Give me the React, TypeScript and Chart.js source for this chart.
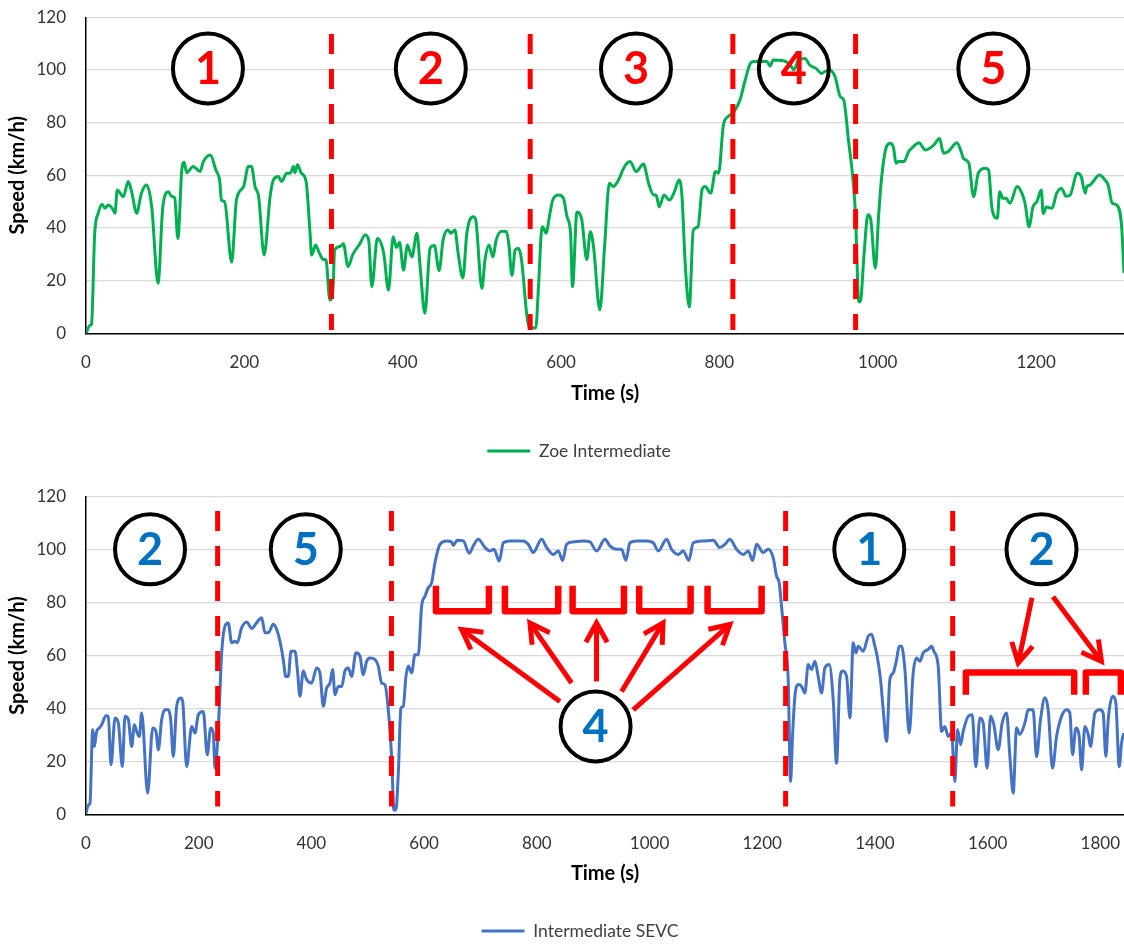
import React, { useEffect, useRef } from "react";
import { Chart, registerables } from "chart.js";

Chart.register(...registerables);
Chart.defaults.font.family = "Lato, 'Open Sans', sans-serif";

// ---------------- Top panel: Zoe Intermediate ----------------
const zoeTime = [
  0, 5, 7, 11, 15.5, 20, 24, 28, 34.5, 36.6, 39.5, 47, 53.4, 57.6, 64, 70, 76.6, 83, 91, 97,
  104, 108, 112, 116, 121, 124, 127, 135.5, 144, 148, 157, 164, 169, 171, 175, 184, 190, 199, 205, 209,
  213.5, 218, 225, 232.5, 236.6, 243, 247, 253.5, 258, 262, 264, 267, 272, 278, 283, 285, 290, 294, 300, 303,
  308, 312, 314, 321, 325, 331, 337, 346, 352.5, 357, 361, 368, 376, 382, 388, 392, 396, 401, 406, 411.5,
  418, 422, 428, 434.6, 440, 446, 451, 457, 461, 466, 470, 476, 481, 489, 492, 500, 504, 509, 514, 518,
  525, 531, 534, 538, 542, 546, 550, 557, 560, 568, 571.5, 576, 578, 581, 586, 589.5, 597, 603, 607.5, 612,
  614.5, 620, 626, 632.5, 637, 641, 649, 655, 661, 666, 672.6, 679, 687, 695, 704, 710.5, 717, 720, 724, 730,
  737, 743.5, 749, 752.5, 757, 762, 767, 773, 778, 782, 789, 795, 799, 805, 811, 818, 826, 832.6, 839, 843,
  851, 860, 864, 868, 881, 889.5, 894, 900, 908, 914, 922, 929, 933, 939, 946, 952.6, 957, 963, 969.5, 972,
  974, 975.8, 978, 982.6, 987.5, 991, 997, 1001, 1005, 1011, 1016, 1020, 1023, 1026, 1033, 1039, 1045, 1052, 1060, 1071,
  1078, 1083, 1089, 1100, 1106, 1108, 1115, 1121, 1127, 1136, 1140, 1144, 1151, 1154, 1158, 1162, 1167, 1176, 1182, 1186,
  1191, 1196, 1201, 1206.5, 1209, 1213, 1220, 1226, 1232, 1238, 1243, 1252, 1257, 1262, 1264, 1268, 1272, 1280, 1287, 1291,
  1296, 1302, 1308, 1311,
];
const zoeSpeed = [
  0, 3, 3.5, 38, 45.6, 49, 47.5, 48.7, 46.8, 45.6, 54.4, 51.9, 57.6, 53.8, 45.6, 53.2, 56.3, 48, 19, 48,
  53.8, 52, 51.5, 36, 62, 65, 61, 63.3, 61.4, 65, 67.7, 62, 57.6, 50.6, 50, 27, 50.6, 55.7, 63.3, 63.3,
  55.7, 52, 29.7, 51.9, 58.2, 59.5, 57.6, 60.8, 60.8, 63.3, 61, 64, 60.8, 57.6, 38, 29.7, 33.5, 31, 28, 28,
  12.6, 17, 31.6, 33, 34, 25.3, 30, 34, 37.3, 35.5, 17.7, 36, 30.4, 16.4, 36.7, 32.6, 34.6, 24, 33.5, 29,
  38, 25.3, 7.6, 32.3, 33.3, 23.8, 35.4, 39.2, 38, 39.2, 30.4, 21, 38, 44.3, 43.4, 17, 28, 33.5, 29, 35.4,
  38.8, 38.6, 34, 22, 31.6, 32.3, 28, 6.3, 2, 2, 17.7, 40.5, 40, 38, 45.6, 50.6, 52.5, 51.3, 44.3, 38,
  17.7, 46, 43.4, 28, 38.6, 32.9, 8.9, 33, 57, 55.7, 58.2, 62.7, 65.2, 61.4, 64.3, 57, 52.5, 52.5, 48, 52.5,
  50.6, 54, 58.2, 53, 25.3, 10, 39.2, 40.5, 54.4, 55.7, 53.2, 61.4, 60.8, 79, 82.3, 84, 88.6, 96.2, 102.5, 103.2,
  103.2, 103.2, 101.5, 103.8, 103.5, 101.9, 100, 103.8, 104.4, 101.9, 100.6, 98.7, 99.4, 100, 97.5, 89.9, 88.6, 73.4, 55.7, 44.3,
  25.3, 12, 12, 29.7, 45, 43.4, 24.7, 44.3, 59.5, 70.9, 72.2, 70.3, 64.6, 65.2, 65.2, 69, 70.9, 72.4, 69.6, 71.6,
  74, 68.4, 69, 72.4, 68.4, 66.5, 64.6, 51.9, 60.8, 62.7, 62, 48, 43.7, 53.8, 51.3, 51.3, 49.4, 55.7, 53.2, 49.4,
  40.5, 48, 50, 54.4, 45.5, 48, 47.5, 53.2, 55, 52, 52.5, 60.8, 59.5, 53.2, 55.7, 56.3, 57.6, 60.1, 58.2, 56.3,
  49.4, 48.7, 40.5, 22.8,
];

// ---------------- Bottom panel: Intermediate SEVC ----------------
const sevcTime = [
  0, 4.1, 7.1, 11.8, 14.8, 18.9, 23.7, 27.8, 35.5, 39.6, 44.4, 51.5, 57.4, 64.5, 69.2, 75.1, 81.1, 85.8, 89.9, 94.6,
  98.8, 109.4, 118.3, 124.2, 128.3, 134.3, 140.2, 146, 150.3, 154.9, 160.9, 168, 171.5, 178.6, 187.5, 193.4, 199.3, 208.1, 215.2, 221.2,
  225.9, 228.9, 233, 236.6, 240.8, 246.6, 252.5, 258.5, 264.4, 268.5, 276.3, 285.1, 294, 302.9, 311.7, 317.6, 323.5, 332.4, 338.3, 344.2,
  350.1, 354.4, 359, 363.8, 370.8, 375.6, 379.7, 385.6, 391.6, 400.4, 409.3, 415.2, 421.1, 427, 432.9, 437.7, 441.8, 447.7, 453.7, 459.5,
  465.4, 471.4, 479, 486.2, 492, 498, 504, 512.8, 518.7, 524.6, 530.5, 536.4, 542.3, 546.5, 550, 554.2, 558.9, 563, 567.8, 571.9,
  577.9, 583.7, 589.7, 595.6, 601.5, 607.4, 613.4, 619.2, 628.1, 640, 648.8, 651.7, 658.8, 669.5, 680.1, 687.2, 696.1, 708, 716.8, 723.9,
  733.4, 740.5, 752.3, 764.2, 776, 784.8, 793.7, 808.5, 817.4, 829.2, 838.1, 845.8, 852.9, 864.7, 882.5, 894.3, 906.1, 920.9, 929.7, 941.6,
  950.5, 958.1, 965.2, 977.1, 994.8, 1006.6, 1015.5, 1030.3, 1039.2, 1051, 1059.8, 1069.9, 1077.6, 1095.3, 1113.1, 1124.9, 1133.8, 1142.6, 1154.5, 1166.3,
  1175.2, 1182.9, 1190, 1201.8, 1210.6, 1219.5, 1225.4, 1230.1, 1234.3, 1240.2, 1246.1, 1250.3, 1253.9, 1258, 1263.9, 1269.8, 1275.7, 1281.6, 1287.6, 1293.5,
  1299.3, 1305.3, 1311.2, 1318.8, 1326, 1331.9, 1337.8, 1342.6, 1349.7, 1355.6, 1361.5, 1366.2, 1370.4, 1379.2, 1388.1, 1394, 1399.9, 1404, 1410, 1414.7,
  1420.6, 1426.5, 1432.4, 1438.4, 1443.1, 1447.3, 1453.2, 1460.8, 1467.9, 1474, 1479.8, 1485.7, 1494.6, 1500.6, 1504.6, 1512.3, 1518.3, 1524.1, 1530, 1536,
  1541.9, 1546.6, 1551.9, 1556.6, 1565.5, 1572.6, 1579.1, 1586.2, 1592.1, 1599.2, 1605.2, 1611.1, 1618.7, 1625.8, 1633.6, 1639.5, 1645.4, 1651.3, 1657.2, 1666.1,
  1672, 1680.8, 1686.8, 1693.9, 1701.6, 1707.4, 1715.2, 1722.3, 1731.2, 1740, 1745.9, 1750.7, 1756.6, 1762.5, 1766.7, 1772.6, 1778.5, 1782.6, 1790.3, 1799.2,
  1805, 1809.8, 1814, 1821.7, 1827.5, 1833.5, 1837.6, 1841.7,
];
const sevcSpeed = [
  0.4, 3.5, 4.2, 31.9, 25.6, 31.3, 32.6, 33.8, 37.2, 37, 18.7, 36.4, 34.5, 18, 37, 35.8, 25.6, 33.8, 31.3, 29.4,
  38.3, 8, 32.6, 31.3, 24.4, 35.8, 39.5, 39.5, 35.8, 21.8, 40.8, 43.9, 42.7, 18, 33.2, 30.7, 37.6, 38.8, 22.5, 32.6,
  30.7, 17.4, 25.6, 40.8, 61, 71.1, 72.3, 64.8, 65.4, 64.8, 70.5, 72.7, 70.2, 72.4, 74.3, 68.6, 68.6, 71.8, 69.9, 65.4,
  58.4, 52.1, 52.1, 61.6, 61.6, 53.4, 44.6, 54.1, 50.9, 49.6, 55.3, 53.4, 40.8, 47.7, 49.6, 54.7, 45.2, 48.3, 48.3, 54.1,
  55.3, 52.1, 61, 59.7, 52.8, 57.8, 59.1, 58.5, 56, 49.6, 49, 39.5, 21.8, 1.6, 1.6, 15.5, 40.1, 40.8, 52.1, 56,
  53.4, 60.3, 60.3, 78.6, 82.4, 85.6, 87.5, 95, 102, 103.3, 102.9, 101.6, 103.5, 103.3, 98.6, 101.4, 103.9, 100.8, 99.5, 100.1,
  95.7, 102.6, 103.3, 103.3, 103.3, 102, 98.9, 103.9, 100.8, 98.2, 99.5, 95.9, 102, 102.9, 103.3, 102.9, 99.5, 103.9, 101.4, 100.1,
  100.1, 96, 102.6, 103.3, 103.3, 102.6, 99.5, 103.9, 100.1, 98.2, 99.5, 95.9, 102.6, 103.3, 103.5, 100.8, 102, 103.9, 100.1, 98.2,
  99.5, 95.9, 102, 98.9, 100.1, 96.9, 90, 87.5, 78.6, 64.8, 50.9, 12.4, 30, 44.6, 49, 48.3, 45.8, 56.6, 54.7, 57.8,
  52.1, 45.8, 55.3, 56.6, 43.3, 19.3, 50.9, 54.1, 52.1, 36.4, 64.8, 61, 63.5, 61.6, 67.3, 68, 63.5, 59.7, 50.9, 39.5,
  27.5, 50.9, 53.4, 58.4, 63.5, 63.5, 54.7, 30.7, 53.4, 59.1, 57.8, 61, 62.3, 63.5, 61.6, 56, 31.3, 33.2, 29.4, 30.7,
  12.4, 32, 26.3, 31.3, 37, 37.6, 18, 36.4, 34.5, 17.4, 37, 33.8, 24.4, 34.5, 38.3, 21.8, 8, 32.6, 30.2, 34.5,
  39.5, 39.5, 21.8, 35.8, 44, 39.5, 17.4, 29.4, 37, 39.5, 38.3, 22.5, 32.6, 29.4, 16.8, 33.2, 30.2, 25.6, 38.3, 39.5,
  38.3, 21.8, 35.8, 44.6, 42.1, 18, 26.9, 30.7,
];

// ---------------- Annotations (in data units: time s, speed km/h) ----------------
const topPhaseBounds = [310, 561, 817, 972];
const topPhaseLabels = ["1", "2", "3", "4", "5"];
const topPhaseLabelTimes = [154, 435.5, 694.6, 894, 1146];
const topPhaseLabelSpeed = 100.6;

const bottomPhaseBounds = [233.6, 542, 1241.5, 1538];
const bottomPhaseLabels = ["2", "5", "1", "2", "4"];
const bottomPhaseLabelTimes = [113.6, 390, 1390, 1695.6, 904.3];
const bottomPhaseLabelSpeeds = [100.1, 100.1, 100.1, 100.1, 33.2];

const cruiseBrackets = [
  [621, 715], [743.4, 838], [863.5, 954.6], [981.7, 1072.9], [1103, 1198.9],
];
const cruiseBracketSpeeds = [86.4, 76.7];
const cruiseArrows = [
  [841, 42.6, 666.6, 69.8],
  [861.7, 49.6, 787.8, 72.3],
  [906, 50.2, 906, 72.3],
  [950.5, 46.4, 1024, 72.3],
  [971, 39.5, 1142.6, 71.7],
];
const urbanBrackets = [[1561.4, 1753.6], [1774.3, 1836.4]];
const urbanBracketSpeeds = [53.6, 45.2];
const urbanArrows = [
  [1678.7, 81.8, 1654.3, 57.2],
  [1716, 82.2, 1802, 57.8],
];

const yTickValues = [0, 20, 40, 60, 80, 100, 120];

// ---------------- Styling ----------------
const RED = "#FF0000";
const CIRCLE_R = 35;
const LEGEND_FONT = 17.5;
const LEGEND_PAD = 6;

type Circle = { t: number; v: number; label: string };
type Spec = {
  label: string;
  color: string;
  times: number[];
  speeds: number[];
  xMax: number;
  height: number;
  padTop: number;
  plotBottom: number;
  titlePadBottom: number;
  legendCenterY: number;
  legendDx: number;
  dashes: number[];
  dashFrom: number;
  dashTo: number;
  circles: Circle[];
  digitColor: string;
  uBrackets: number[][];
  uSpeeds: number[];
  nBrackets: number[][];
  nSpeeds: number[];
  arrows: number[][];
};

function drawArrow(ctx: CanvasRenderingContext2D, x1: number, y1: number, x2: number, y2: number) {
  const ang = Math.atan2(y2 - y1, x2 - x1);
  const len = 22;
  const spread = (29 * Math.PI) / 180;
  ctx.beginPath();
  ctx.moveTo(x1, y1);
  ctx.lineTo(x2 - Math.cos(ang) * 2, y2 - Math.sin(ang) * 2);
  ctx.stroke();
  ctx.beginPath();
  ctx.moveTo(x2 - len * Math.cos(ang - spread), y2 - len * Math.sin(ang - spread));
  ctx.lineTo(x2, y2);
  ctx.lineTo(x2 - len * Math.cos(ang + spread), y2 - len * Math.sin(ang + spread));
  ctx.stroke();
}

function annotationPlugin(spec: Spec) {
  return {
    id: "phaseAnnotations",
    afterLayout(chart: any) {
      const lg = chart.legend;
      if (!lg) return;
      const cur = lg.top + LEGEND_PAD + LEGEND_FONT / 2;
      const dy = spec.legendCenterY - cur;
      lg.top += dy;
      lg.bottom += dy;
      lg.left += spec.legendDx;
      lg.right += spec.legendDx;
    },
    beforeDatasetsDraw(chart: any) {
      const { ctx } = chart;
      const x = chart.scales.x;
      const y = chart.scales.y;
      ctx.save();
      ctx.fillStyle = "#ffffff";
      spec.circles.forEach((c) => {
        ctx.beginPath();
        ctx.arc(x.getPixelForValue(c.t), y.getPixelForValue(c.v), CIRCLE_R, 0, Math.PI * 2);
        ctx.fill();
      });
      ctx.restore();
    },
    afterDatasetsDraw(chart: any) {
      const { ctx } = chart;
      const x = chart.scales.x;
      const y = chart.scales.y;
      ctx.save();
      // dashed phase boundaries
      ctx.strokeStyle = RED;
      ctx.lineWidth = 5;
      ctx.setLineDash([20, 15]);
      spec.dashes.forEach((t) => {
        const px = x.getPixelForValue(t);
        ctx.beginPath();
        ctx.moveTo(px, y.getPixelForValue(spec.dashTo));
        ctx.lineTo(px, y.getPixelForValue(spec.dashFrom));
        ctx.stroke();
      });
      ctx.setLineDash([]);
      // brackets
      ctx.lineWidth = 6.5;
      ctx.lineJoin = "round";
      ctx.lineCap = "butt";
      spec.uBrackets.forEach(([t1, t2]) => {
        const a = x.getPixelForValue(t1);
        const b = x.getPixelForValue(t2);
        const top = y.getPixelForValue(spec.uSpeeds[0]);
        const bot = y.getPixelForValue(spec.uSpeeds[1]);
        ctx.beginPath();
        ctx.moveTo(a, top);
        ctx.lineTo(a, bot);
        ctx.lineTo(b, bot);
        ctx.lineTo(b, top);
        ctx.stroke();
      });
      spec.nBrackets.forEach(([t1, t2]) => {
        const a = x.getPixelForValue(t1);
        const b = x.getPixelForValue(t2);
        const top = y.getPixelForValue(spec.nSpeeds[0]);
        const bot = y.getPixelForValue(spec.nSpeeds[1]);
        ctx.beginPath();
        ctx.moveTo(a, bot);
        ctx.lineTo(a, top);
        ctx.lineTo(b, top);
        ctx.lineTo(b, bot);
        ctx.stroke();
      });
      // arrows
      ctx.lineWidth = 5;
      ctx.lineJoin = "miter";
      spec.arrows.forEach(([t1, v1, t2, v2]) => {
        drawArrow(ctx, x.getPixelForValue(t1), y.getPixelForValue(v1), x.getPixelForValue(t2), y.getPixelForValue(v2));
      });
      // circles and digits
      ctx.strokeStyle = "#000000";
      ctx.lineWidth = 4;
      ctx.font = "bold 45px Lato, 'Open Sans', sans-serif";
      ctx.textAlign = "center";
      ctx.textBaseline = "alphabetic";
      ctx.fillStyle = spec.digitColor;
      spec.circles.forEach((c) => {
        const cx = x.getPixelForValue(c.t);
        const cy = y.getPixelForValue(c.v);
        ctx.beginPath();
        ctx.arc(cx, cy, CIRCLE_R, 0, Math.PI * 2);
        ctx.stroke();
        ctx.fillText(c.label, cx, cy + 16);
      });
      ctx.restore();
    },
  };
}

function buildConfig(spec: Spec): any {
  const legendHeight = LEGEND_FONT + LEGEND_PAD + 10;
  const xAxisHeight = spec.height - legendHeight - spec.plotBottom;
  return {
    type: "line",
    data: {
      datasets: [
        {
          label: spec.label,
          data: spec.times.map((t, i) => ({ x: t, y: spec.speeds[i] })),
          borderColor: spec.color,
          backgroundColor: spec.color,
          borderWidth: 3,
          pointRadius: 0,
          pointHoverRadius: 0,
          cubicInterpolationMode: "monotone",
          fill: false,
        },
      ],
    },
    options: {
      responsive: false,
      animation: false,
      devicePixelRatio: 1,
      events: [],
      layout: { padding: { top: spec.padTop, bottom: 0, left: 0, right: 0 } },
      plugins: {
        tooltip: { enabled: false },
        legend: {
          display: true,
          position: "bottom",
          labels: {
            boxWidth: 43,
            boxHeight: 0,
            padding: LEGEND_PAD,
            color: "#404040",
            font: { size: LEGEND_FONT },
          },
        },
      },
      scales: {
        x: {
          type: "linear",
          min: 0,
          max: spec.xMax,
          afterFit: (s: any) => {
            s.height = xAxisHeight;
          },
          grid: {
            display: true,
            color: "rgba(0,0,0,0)",
            drawOnChartArea: false,
            drawTicks: true,
            tickLength: 18.8,
            tickColor: "rgba(0,0,0,0)",
          },
          border: { display: true, color: "#000000", width: 1.5 },
          ticks: {
            stepSize: 200,
            includeBounds: false,
            padding: 0,
            color: "#333333",
            font: { size: 17 },
            maxRotation: 0,
            callback: (v: any) => String(v),
          },
          title: {
            display: true,
            text: "Time (s)",
            color: "#000000",
            font: { size: 20, weight: "bold" },
            padding: { top: 0, bottom: spec.titlePadBottom },
          },
        },
        y: {
          type: "linear",
          min: 0,
          max: 120,
          afterFit: (s: any) => {
            s.width = 86;
          },
          afterBuildTicks: (s: any) => {
            s.ticks = yTickValues.map((v) => ({ value: v }));
          },
          grid: {
            display: true,
            color: "#D9D9D9",
            lineWidth: 1.3,
            drawTicks: true,
            tickLength: 20,
            tickColor: "rgba(0,0,0,0)",
          },
          border: { display: true, color: "#000000", width: 1.5 },
          ticks: {
            padding: 0,
            color: "#333333",
            font: { size: 17 },
            callback: (v: any) => String(v),
          },
          title: {
            display: true,
            text: "Speed (km/h)",
            color: "#000000",
            font: { size: 20, weight: "bold" },
            padding: { top: 6, bottom: 0 },
          },
        },
      },
    },
    plugins: [annotationPlugin(spec)],
  };
}

const topSpec: Spec = {
  label: "Zoe Intermediate",
  color: "#00B050",
  times: zoeTime,
  speeds: zoeSpeed,
  xMax: 1311,
  height: 472,
  padTop: 17.3,
  plotBottom: 333.3,
  titlePadBottom: 32.5,
  legendCenterY: 451,
  legendDx: 17,
  dashes: topPhaseBounds,
  dashFrom: 1.3,
  dashTo: 113.7,
  circles: topPhaseLabels.map((l, i) => ({ t: topPhaseLabelTimes[i], v: topPhaseLabelSpeed, label: l })),
  digitColor: "#FF0000",
  uBrackets: [],
  uSpeeds: [0, 0],
  nBrackets: [],
  nSpeeds: [0, 0],
  arrows: [],
};

const bottomSpec: Spec = {
  label: "Intermediate SEVC",
  color: "#4472C4",
  times: sevcTime,
  speeds: sevcSpeed,
  xMax: 1842,
  height: 475,
  padTop: 24.7,
  plotBottom: 342.3,
  titlePadBottom: 27.5,
  legendCenterY: 459,
  legendDx: 18,
  dashes: bottomPhaseBounds,
  dashFrom: 2.9,
  dashTo: 114.6,
  circles: bottomPhaseLabels.map((l, i) => ({ t: bottomPhaseLabelTimes[i], v: bottomPhaseLabelSpeeds[i], label: l })),
  digitColor: "#0070C0",
  uBrackets: cruiseBrackets,
  uSpeeds: cruiseBracketSpeeds,
  nBrackets: urbanBrackets,
  nSpeeds: urbanBracketSpeeds,
  arrows: [...cruiseArrows, ...urbanArrows],
};

function SpeedChart({ spec }: { spec: Spec }) {
  const ref = useRef<HTMLCanvasElement | null>(null);
  useEffect(() => {
    if (!ref.current) return;
    const chart = new Chart(ref.current, buildConfig(spec));
    return () => chart.destroy();
  }, [spec]);
  return (
    <canvas
      ref={ref}
      width={1124}
      height={spec.height}
      style={{ display: "block", width: 1124, height: spec.height }}
    />
  );
}

export default function App() {
  useEffect(() => {
    document.body.style.margin = "0";
    document.body.style.background = "#ffffff";
  }, []);
  return (
    <div style={{ width: 1124, height: 947, background: "#ffffff", overflow: "hidden" }}>
      <SpeedChart spec={topSpec} />
      <SpeedChart spec={bottomSpec} />
    </div>
  );
}
